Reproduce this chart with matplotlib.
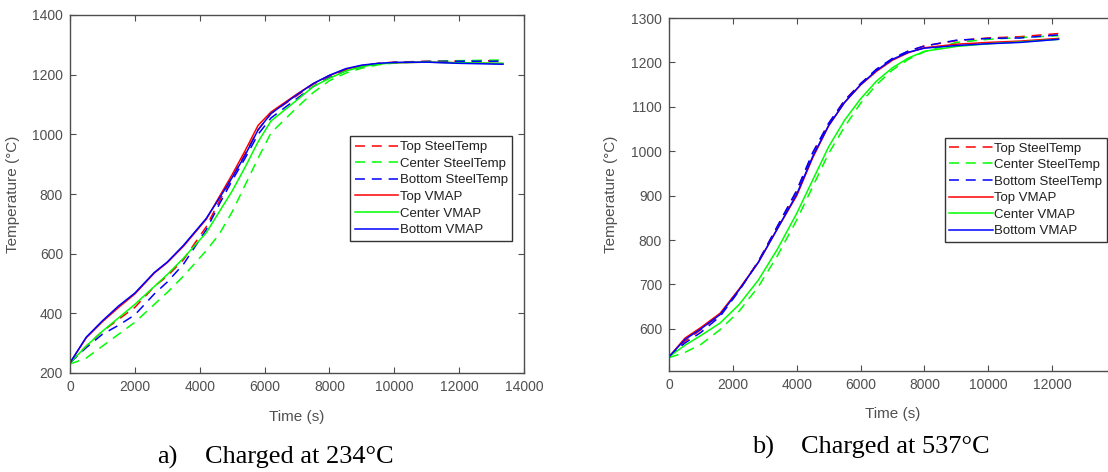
import matplotlib
matplotlib.use("Agg")
import matplotlib.pyplot as plt

plt.rcParams['font.family'] = ['Liberation Sans', 'DejaVu Sans']

# ---------------- data: panel a (charged at 234 C) ----------------
t_a = [0, 500, 1000, 1500, 2000, 2600, 3000, 3500, 4200, 4600, 5000, 5400,
       5800, 6200, 7000, 7500, 8000, 8500, 9000, 9500, 10000, 11000, 12000, 13350]
a_top_steel = [234, 290, 340, 380, 420, 490, 525, 580, 690, 775, 855, 935,
               1015, 1070, 1130, 1168, 1195, 1217, 1230, 1238, 1242, 1245, 1246, 1247]
a_center_steel = [230, 250, 290, 330, 370, 430, 470, 525, 610, 665, 740, 830,
                  920, 1005, 1090, 1140, 1180, 1205, 1222, 1233, 1239, 1244, 1247, 1249]
a_bottom_steel = [234, 285, 330, 360, 395, 465, 505, 565, 680, 765, 845, 920,
                  1000, 1055, 1120, 1160, 1190, 1213, 1227, 1236, 1241, 1244, 1245, 1245]
a_top_vmap = [234, 318, 372, 420, 465, 535, 570, 625, 715, 790, 865, 945,
              1030, 1075, 1135, 1170, 1197, 1218, 1230, 1237, 1240, 1242, 1240, 1237]
a_center_vmap = [234, 290, 340, 385, 430, 490, 530, 585, 670, 740, 810, 890,
                 975, 1045, 1115, 1160, 1188, 1212, 1227, 1235, 1240, 1242, 1240, 1238]
a_bottom_vmap = [234, 320, 375, 425, 468, 537, 572, 628, 718, 785, 855, 930,
                 1015, 1070, 1133, 1170, 1198, 1220, 1232, 1238, 1241, 1242, 1238, 1235]

# ---------------- data: panel b (charged at 537 C) ----------------
t_b = [0, 500, 1000, 1600, 2200, 2800, 3400, 4000, 4500, 5000, 5500, 6000,
       6500, 7000, 7500, 8000, 9000, 10000, 11000, 12200]
b_top_steel = [537, 572, 598, 632, 688, 752, 830, 910, 995, 1062, 1115, 1152,
               1184, 1208, 1225, 1237, 1249, 1255, 1258, 1265]
b_center_steel = [535, 547, 565, 598, 640, 695, 765, 845, 920, 995, 1055, 1108,
                  1150, 1183, 1207, 1224, 1245, 1252, 1256, 1260]
b_bottom_steel = [537, 568, 592, 628, 686, 752, 832, 912, 997, 1063, 1114, 1152,
                  1185, 1209, 1226, 1237, 1250, 1254, 1255, 1262]
b_top_vmap = [537, 579, 603, 635, 690, 750, 826, 900, 985, 1057, 1110, 1149,
              1180, 1205, 1222, 1233, 1241, 1245, 1248, 1254]
b_center_vmap = [537, 563, 585, 613, 655, 710, 780, 860, 935, 1010, 1070, 1118,
                 1158, 1188, 1210, 1225, 1236, 1242, 1246, 1252]
b_bottom_vmap = [537, 576, 600, 632, 688, 750, 826, 903, 988, 1058, 1110, 1150,
                 1182, 1207, 1223, 1232, 1238, 1242, 1245, 1252]

labels = ["Top SteelTemp", "Center SteelTemp", "Bottom SteelTemp",
          "Top VMAP", "Center VMAP", "Bottom VMAP"]
colors = ["#ff0000", "#00ff00", "#0000ff", "#ff0000", "#00ff00", "#0000ff"]
styles = ["--", "--", "--", "-", "-", "-"]

a_ticks_y = [200, 400, 600, 800, 1000, 1200, 1400]
b_ticks_y = [600, 700, 800, 900, 1000, 1100, 1200, 1300]
x_ticks = [0, 2000, 4000, 6000, 8000, 10000, 12000, 14000]

AX_C = "#4d4d4d"
TXT_C = "#505050"

fig = plt.figure(figsize=(11.08, 4.72), dpi=100)


def make_panel(rect, t, series, yticks, ylim, xlab_y, ylab_x, show_last_x=True):
    ax = fig.add_axes(rect)
    for ys, lab, c, ls in zip(series, labels, colors, styles):
        ln, = ax.plot(t, ys, color=c, linestyle=ls, lw=1.1, label=lab)
        if ls == "--":
            ln.set_dashes((6.5, 4.5))
    ax.set_xlim(0, 14000)
    ax.set_ylim(*ylim)
    ax.set_xticks(x_ticks)
    xl = [str(v) for v in x_ticks]
    if not show_last_x:
        xl[-1] = ""
    ax.set_xticklabels(xl)
    ax.set_yticks(yticks)
    ax.tick_params(direction="in", length=4, width=0.8, colors=AX_C,
                   labelcolor=TXT_C, labelsize=10, top=True, right=True, pad=5)
    for s in ax.spines.values():
        s.set_color(AX_C)
        s.set_linewidth(1.0)
    ax.set_xlabel("Time (s)", fontsize=11, color=TXT_C)
    ax.set_ylabel("Temperature (°C)", fontsize=11, color=TXT_C)
    ax.xaxis.set_label_coords(0.5, xlab_y)
    ax.yaxis.set_label_coords(ylab_x, 0.5)
    leg = ax.legend(loc="upper left", bbox_to_anchor=(0.617, 0.661),
                    fontsize=9.5, frameon=True, fancybox=False, framealpha=1,
                    edgecolor="#333333", handlelength=3.3, handletextpad=0.1,
                    labelspacing=0.33, borderpad=0.35, borderaxespad=0.0)
    leg.get_frame().set_linewidth(1.0)
    for txt in leg.get_texts():
        txt.set_color("#202020")
    return ax


ax1 = make_panel([70 / 1108, 1 - 373 / 472, 454 / 1108, 358 / 472],
                 t_a, [a_top_steel, a_center_steel, a_bottom_steel,
                       a_top_vmap, a_center_vmap, a_bottom_vmap],
                 a_ticks_y, (200, 1400), -0.103, -0.110)

ax2 = make_panel([669 / 1108, 1 - 371 / 472, 447 / 1108, 353 / 472],
                 t_b, [b_top_steel, b_center_steel, b_bottom_steel,
                       b_top_vmap, b_center_vmap, b_bottom_vmap],
                 b_ticks_y, (505, 1300), -0.102, -0.114, show_last_x=False)

serif = ['Liberation Serif', 'DejaVu Serif']
fig.text(157 / 1108, 1 - 457 / 472, "a)", fontsize=19, family=serif,
         ha="left", va="center", color="black")
fig.text(205 / 1108, 1 - 457 / 472, "Charged at 234°C", fontsize=19,
         family=serif, ha="left", va="center", color="black")
fig.text(752 / 1108, 1 - 447 / 472, "b)", fontsize=19, family=serif,
         ha="left", va="center", color="black")
fig.text(801 / 1108, 1 - 447 / 472, "Charged at 537°C", fontsize=19,
         family=serif, ha="left", va="center", color="black")

fig.savefig("out.png", dpi=100)
